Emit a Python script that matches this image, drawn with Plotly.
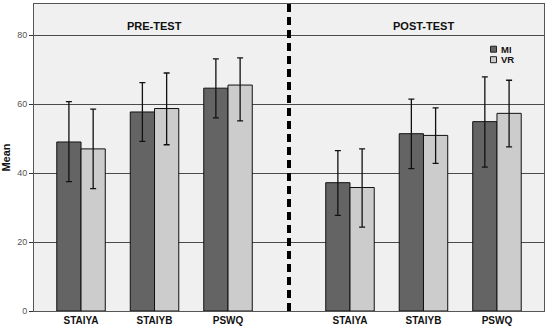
import plotly.graph_objects as go

categories = ["STAIYA", "STAIYB", "PSWQ", "STAIYA", "STAIYB", "PSWQ"]
positions = [0, 1, 2, 3.66, 4.66, 5.66]
mi_mean = [49.0, 57.7, 64.6, 37.2, 51.4, 54.9]
mi_upper = [60.7, 66.2, 73.1, 46.5, 61.4, 67.9]
mi_lower = [37.5, 49.2, 56.0, 27.7, 41.3, 41.7]
vr_mean = [47.0, 58.7, 65.5, 35.8, 50.9, 57.3]
vr_upper = [58.5, 69.0, 73.4, 47.0, 58.9, 66.9]
vr_lower = [35.5, 48.2, 55.1, 24.3, 42.8, 47.6]
y_ticks = [0, 20, 40, 60, 80]
phase_labels = ["PRE-TEST", "POST-TEST"]
phase_centers = [1, 4.66]
divider_x = 2.83
series_names = ["MI", "VR"]
series_colors = ["#646464", "#cccccc"]

bw = 0.33
fig = go.Figure()
for name, color, means, ups, lows, off in [
    ("MI", series_colors[0], mi_mean, mi_upper, mi_lower, -bw),
    ("VR", series_colors[1], vr_mean, vr_upper, vr_lower, 0),
]:
    fig.add_trace(go.Bar(
        x=positions, y=means, name=name, width=bw, offset=off,
        marker=dict(color=color, line=dict(color="#111111", width=1)),
        error_y=dict(type="data", symmetric=False,
                     array=[u - m for u, m in zip(ups, means)],
                     arrayminus=[m - l for m, l in zip(means, lows)],
                     color="#111111", thickness=1.3, width=3),
        showlegend=False,
    ))

fig.add_shape(type="line", x0=divider_x, x1=divider_x, y0=0, y1=1, yref="paper",
              line=dict(color="black", width=4, dash="8px,5px"))

for lab, cx in zip(phase_labels, phase_centers):
    fig.add_annotation(x=cx, y=82.6, text="<b>%s</b>" % lab, showarrow=False,
                       font=dict(family="Liberation Sans", size=11, color="#111111"))

# manual legend
W, H = 550, 332
ml, mr, mt, mb = 34, 6, 4, 21
pw, ph = W - ml - mr, H - mt - mb
def px2paper(x, y):
    return (x - ml) / pw, 1 - (y - mt) / ph
for i, (name, color) in enumerate(zip(series_names, series_colors)):
    cy = 49.2 + 10.5 * i
    x0, y0 = px2paper(490.5, cy - 3)
    x1, y1 = px2paper(496.5, cy + 3)
    fig.add_shape(type="rect", xref="paper", yref="paper", x0=x0, x1=x1, y0=y1, y1=y0,
                  fillcolor=color, line=dict(color="#222222", width=1))
    tx, ty = px2paper(499.5, cy)
    fig.add_annotation(xref="paper", yref="paper", x=tx, y=ty, xanchor="left", yanchor="middle",
                       text="<b>%s</b>" % name, showarrow=False, height=9, borderpad=0,
                       font=dict(family="Liberation Sans", size=9.5, color="#111111"))

fig.update_layout(
    width=W, height=H,
    margin=dict(l=ml, r=mr, t=mt, b=mb),
    paper_bgcolor="white", plot_bgcolor="#f0f0f0",
    barmode="overlay",
    showlegend=False,
    font=dict(family="Liberation Sans"),
)
fig.update_xaxes(range=[-0.64, 6.30], tickvals=positions,
                 ticktext=["<b>%s</b>" % c for c in categories],
                 tickfont=dict(size=10, color="#111111"),
                 showgrid=False, zeroline=False, showline=True, linecolor="#555555",
                 mirror=True, ticks="", automargin=False)
fig.update_yaxes(range=[0, 89], tickvals=y_ticks, ticks="outside", ticklen=4,
                 tickcolor="#333333", tickfont=dict(size=9, color="#555555"),
                 showgrid=True, gridcolor="#4a4a4a", gridwidth=1, zeroline=False,
                 showline=True, linecolor="#555555", mirror=True, automargin=False,
                 title=dict(text="<b>Mean</b>", font=dict(size=11, color="#111111"), standoff=8))
fig.write_html("out.html", config={"displayModeBar": False},
               post_script="document.body.style.margin='0';")
